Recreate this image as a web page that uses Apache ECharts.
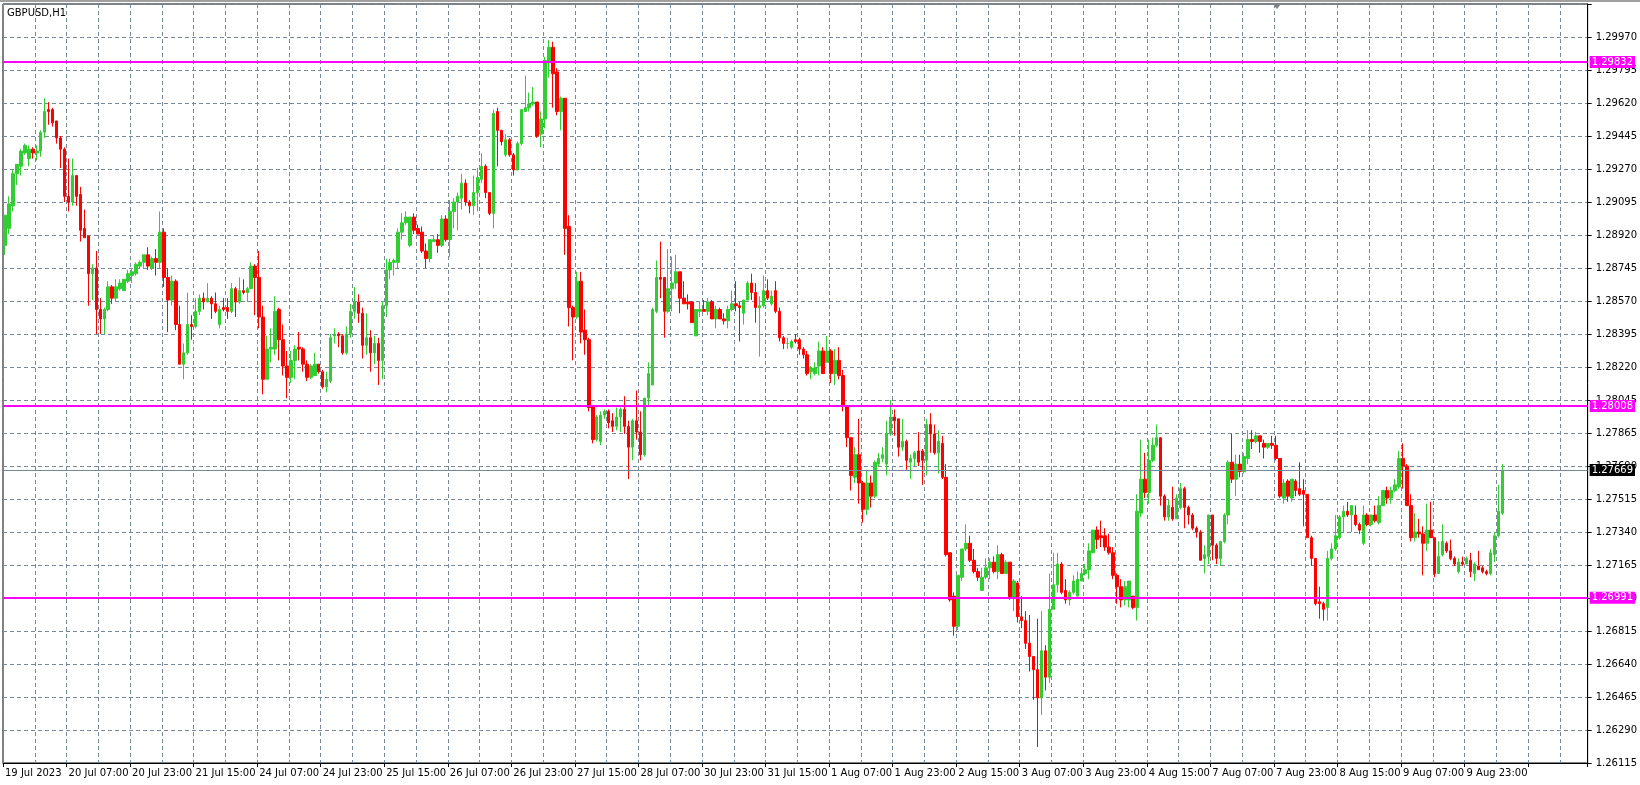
<!DOCTYPE html>
<html>
<head>
<meta charset="utf-8">
<script src="https://cdn.jsdelivr.net/npm/echarts@6/dist/echarts.min.js"></script>
<style>
  html, body { margin: 0; padding: 0; background: #fff; }
  #chart { width: 1640px; height: 785px; }
</style>
</head>
<body>
<div id="chart"></div>
<script>
const tickLabels = ['19 Jul 2023', '20 Jul 07:00', '20 Jul 23:00', '21 Jul 15:00', '24 Jul 07:00', '24 Jul 23:00',
  '25 Jul 15:00', '26 Jul 07:00', '26 Jul 23:00', '27 Jul 15:00', '28 Jul 07:00', '30 Jul 23:00', '31 Jul 15:00',
  '1 Aug 07:00', '1 Aug 23:00', '2 Aug 15:00', '3 Aug 07:00', '3 Aug 23:00', '4 Aug 15:00', '7 Aug 07:00',
  '7 Aug 23:00', '8 Aug 15:00', '9 Aug 07:00', '9 Aug 23:00'];
const priceLabels = ['1.26115', '1.26290', '1.26465', '1.26640', '1.26815', '1.26990', '1.27165', '1.27340',
  '1.27515', '1.27690', '1.27865', '1.28045', '1.28220', '1.28395', '1.28570', '1.28745', '1.28920', '1.29095',
  '1.29270', '1.29445', '1.29620', '1.29795', '1.29970'];
const barsPerLabel = 16;
const totalSlots = 399;

const opens = [
  1.2886,1.2895,1.2907,1.2924,1.2928,1.2935,1.2932,1.2937,1.2935,1.2936,
  1.2946,1.2958,1.2958,1.2952,1.2943,1.2937,1.2912,1.2909,1.2923,1.2913,
  1.2895,1.2891,1.2871,1.2874,1.2852,1.2847,1.2852,1.2864,1.2858,1.2863,
  1.2862,1.2867,1.2870,1.2871,1.2875,1.2877,1.2881,1.2874,1.2879,1.2877,
  1.2893,1.2869,1.2857,1.2867,1.2844,1.2823,1.2829,1.2844,1.2843,1.2851,
  1.2858,1.2856,1.2858,1.2855,1.2844,1.2853,1.2853,1.2851,1.2863,1.2856,
  1.2862,1.2861,1.2863,1.2875,
  1.2869,1.2848,1.2815,1.2831,1.2831,1.2852,1.2836,1.2822,1.2816,1.2825,
  1.2832,1.2831,1.2823,1.2816,1.2817,1.2823,1.2819,1.2811,1.2814,1.2838,
  1.2839,1.2838,1.2829,1.2839,1.2851,1.2856,1.2850,1.2833,1.2837,1.2829,
  1.2834,1.2825,1.2854,1.2873,1.2877,1.2877,1.2893,1.2898,1.2886,1.2901,
  1.2895,1.2893,1.2883,1.2879,1.2888,1.2889,1.2886,1.2900,1.2889,1.2904,
  1.2909,1.2911,1.2919,1.2909,1.2907,1.2914,1.2921,1.2928,1.2914,1.2903,
  1.2957,1.2947,1.2934,1.2942,1.2934,1.2926,1.2940,1.2957,1.2959,1.2961,
  1.2962,1.2945,1.2953,1.2983,1.2991,1.2978,1.2957,1.2964,
  1.2896,1.2853,1.2848,1.2867,1.2841,1.2836,1.2801,1.2783,1.2782,1.2796,
  1.2798,1.2793,1.2790,1.2795,1.2799,1.2790,1.2779,1.2793,1.2787,1.2775,
  1.2805,1.2812,1.2851,1.2869,1.2869,1.2851,1.2863,1.2866,1.2872,1.2858,
  1.2856,1.2856,1.2838,1.2851,1.2852,1.2851,1.2856,1.2847,1.2852,1.2847,
  1.2846,1.2852,1.2855,1.2854,1.2850,1.2857,1.2866,1.2861,1.2853,1.2854,
  1.2862,1.2855,1.2862,1.2851,1.2837,1.2834,1.2832,1.2836,1.2836,1.2831,
  1.2828,1.2819,1.2818,1.2822,1.2830,1.2824,1.2830,1.2818,1.2825,1.2817,1.2801,1.2784,
  1.2763,1.2775,1.2760,1.2746,1.2760,1.2753,1.2770,1.2773,1.2770,1.2786,
  1.2795,1.2794,1.2779,1.2782,1.2771,1.2773,1.2777,1.2777,1.2772,1.2791,
  1.2786,1.2776,1.2781,1.2763,1.2723,1.2700,1.2684,1.2710,1.2725,1.2728,
  1.2719,1.2713,1.2703,1.2710,1.2715,1.2718,1.2713,1.2722,1.2712,1.2718,
  1.2699,1.2707,1.2689,1.2687,1.2675,1.2668,1.2661,1.2646,1.2671,1.2657,
  1.2693,1.2706,1.2717,1.2703,1.2698,1.2702,1.2700,1.2708,1.2712,1.2714,
  1.2723,1.2735,1.2732,1.2732,
  1.2726,1.2723,1.2711,1.2705,1.2698,1.2698,1.2700,1.2694,1.2744,1.2762,
  1.2755,1.2772,1.2780,1.2784,1.2753,1.2742,1.2747,1.2741,1.2747,1.2757,
  1.2747,1.2743,1.2736,1.2734,1.2720,1.2721,1.2743,1.2727,1.2720,1.2729,
  1.2743,1.2771,1.2762,1.2770,1.2766,1.2773,1.2783,1.2782,1.2785,1.2781,
  1.2779,1.2781,1.2780,1.2773,1.2752,1.2761,1.2752,1.2761,1.2757,1.2756,
  1.2754,1.2731,1.2720,1.2697,1.2696,1.2694,1.2720,1.2725,1.2731,1.2742,
  1.2745,1.2743,1.2743,1.2738,1.2728,1.2743,1.2738,1.2743,1.2739,1.2748,
  1.2756,1.2752,1.2756,1.2758,1.2773,1.2769,1.2748,1.2731,1.2734,1.2733,
  1.2728,1.2735,1.2731,1.2712,1.2722,1.2728,1.2724,1.2720,1.2713,1.2718,
  1.2717,1.2719,1.2712,1.2716,1.2715,1.2713,1.2712,1.2722,1.2732,1.2744
];
const closes = [
  1.2902,1.2908,1.2924,1.2929,1.2936,1.2939,1.2937,1.2935,1.2936,1.2946,
  1.2957,1.2957,1.2951,1.2943,1.2937,1.2912,1.2909,1.2923,1.2912,1.2894,
  1.2890,1.2871,1.2874,1.2852,1.2847,1.2852,1.2864,1.2858,1.2864,1.2866,
  1.2868,1.2871,1.2872,1.2876,1.2877,1.2881,1.2875,1.2879,1.2877,1.2893,
  1.2869,1.2857,1.2867,1.2844,1.2823,1.2829,1.2844,1.2843,1.2851,1.2858,
  1.2856,1.2858,1.2855,1.2851,1.2852,1.2852,1.2851,1.2863,1.2856,1.2862,
  1.2861,1.2863,1.2875,1.2869,
  1.2848,1.2815,1.2831,1.2832,1.2851,1.2836,1.2822,1.2816,1.2825,1.2831,
  1.2831,1.2823,1.2816,1.2822,1.2823,1.2819,1.2811,1.2815,1.2837,1.2839,
  1.2838,1.2829,1.2839,1.2851,1.2856,1.2850,1.2833,1.2837,1.2829,1.2834,
  1.2825,1.2854,1.2873,1.2877,1.2878,1.2893,1.2898,1.2901,1.2901,1.2894,
  1.2892,1.2883,1.2879,1.2889,1.2889,1.2886,1.2900,1.2889,1.2904,1.2909,
  1.2912,1.2919,1.2909,1.2907,1.2914,1.2922,1.2928,1.2914,1.2903,1.2956,
  1.2947,1.2941,1.2942,1.2934,1.2926,1.2940,1.2958,1.2959,1.2961,1.2962,
  1.2944,1.2953,1.2984,1.2991,1.2977,1.2957,1.2964,1.2895,
  1.2853,1.2848,1.2867,1.2840,1.2836,1.2800,1.2783,1.2795,1.2796,1.2798,
  1.2792,1.2790,1.2795,1.2799,1.2790,1.2779,1.2793,1.2787,1.2775,1.2805,
  1.2818,1.2852,1.2869,1.2868,1.2851,1.2863,1.2866,1.2872,1.2858,1.2855,
  1.2855,1.2845,1.2852,1.2852,1.2851,1.2856,1.2847,1.2852,1.2847,1.2846,
  1.2852,1.2855,1.2854,1.2853,1.2857,1.2866,1.2861,1.2853,1.2854,1.2862,
  1.2858,1.2859,1.2851,1.2837,1.2834,1.2834,1.2835,1.2835,1.2831,1.2828,
  1.2818,1.2821,1.2821,1.2830,1.2818,1.2830,1.2818,1.2825,1.2817,1.2801,1.2784,1.2764,
  1.2775,1.2760,1.2746,1.2760,1.2753,1.2771,1.2773,1.2775,1.2786,1.2795,
  1.2793,1.2779,1.2782,1.2772,1.2773,1.2776,1.2771,1.2772,1.2791,1.2786,
  1.2776,1.2782,1.2763,1.2722,1.2698,1.2684,1.2711,1.2725,1.2728,1.2719,
  1.2713,1.2710,1.2710,1.2715,1.2718,1.2713,1.2722,1.2712,1.2718,1.2699,
  1.2708,1.2689,1.2687,1.2675,1.2668,1.2661,1.2646,1.2671,1.2657,1.2693,
  1.2706,1.2717,1.2702,1.2698,1.2702,1.2708,1.2709,1.2712,1.2714,1.2724,
  1.2735,1.2730,1.2731,1.2726,
  1.2723,1.2711,1.2705,1.2698,1.2705,1.2708,1.2694,1.2745,1.2762,1.2755,
  1.2772,1.2780,1.2784,1.2753,1.2742,1.2748,1.2741,1.2752,1.2757,1.2747,
  1.2743,1.2736,1.2734,1.2719,1.2722,1.2743,1.2727,1.2720,1.2729,1.2743,
  1.2771,1.2762,1.2770,1.2766,1.2774,1.2783,1.2782,1.2785,1.2782,1.2779,
  1.2781,1.2780,1.2773,1.2753,1.2760,1.2753,1.2762,1.2756,1.2754,1.2754,
  1.2731,1.2720,1.2696,1.2696,1.2693,1.2720,1.2725,1.2732,1.2742,1.2745,
  1.2743,1.2748,1.2738,1.2735,1.2743,1.2738,1.2743,1.2740,1.2748,1.2756,
  1.2752,1.2756,1.2759,1.2773,1.2769,1.2748,1.2731,1.2734,1.2733,1.2728,
  1.2735,1.2731,1.2712,1.2721,1.2729,1.2724,1.2720,1.2717,1.2718,1.2717,
  1.2720,1.2713,1.2717,1.2714,1.2713,1.2712,1.2723,1.2732,1.2745,1.27669
];
const lows = [
  1.2881,1.2892,1.2904,1.2918,1.2923,1.2934,1.2928,1.2932,1.2931,1.2933,
  1.2943,1.2950,1.2949,1.2940,1.2927,1.2909,1.2904,1.2907,1.2907,1.2888,
  1.2890,1.2854,1.2857,1.2839,1.2839,1.2839,1.2851,1.2855,1.2856,1.2862,
  1.2862,1.2866,1.2866,1.2870,1.2874,1.2874,1.2873,1.2873,1.2870,1.2874,
  1.2864,1.2840,1.2854,1.2841,1.2823,1.2815,1.2828,1.2836,1.2842,1.2849,
  1.2852,1.2856,1.2847,1.2850,1.2842,1.2851,1.2847,1.2850,1.2848,1.2855,
  1.2860,1.2856,1.2863,1.2849,
  1.2842,1.2807,1.2815,1.2824,1.2828,1.2825,1.2817,1.2805,1.2813,1.2815,
  1.2825,1.2819,1.2814,1.2815,1.2817,1.2818,1.2810,1.2808,1.2813,1.2834,
  1.2832,1.2828,1.2828,1.2837,1.2847,1.2845,1.2826,1.2828,1.2819,1.2823,
  1.2812,1.2815,1.2848,1.2868,1.2870,1.2874,1.2889,1.2897,1.2885,1.2892,
  1.2892,1.2882,1.2874,1.2877,1.2888,1.2882,1.2885,1.2888,1.2880,1.2895,
  1.2894,1.2905,1.2907,1.2903,1.2902,1.2904,1.2919,1.2911,1.2902,1.2895,
  1.2928,1.2939,1.2933,1.2933,1.2923,1.2926,1.2939,1.2957,1.2957,1.2960,
  1.2943,1.2938,1.2948,1.2975,1.2959,1.2955,1.2947,1.2881,
  1.2843,1.2825,1.2847,1.2834,1.2828,1.2798,1.2781,1.2782,1.2780,1.2794,
  1.2789,1.2787,1.2788,1.2787,1.2786,1.2762,1.2772,1.2783,1.2772,1.2774,
  1.2801,1.2812,1.2850,1.2858,1.2837,1.2850,1.2851,1.2863,1.2850,1.2855,
  1.2852,1.2845,1.2838,1.2848,1.2851,1.2849,1.2847,1.2842,1.2847,1.2844,
  1.2842,1.2851,1.2851,1.2835,1.2844,1.2857,1.2857,1.2845,1.2827,1.2853,
  1.2857,1.2854,1.2850,1.2835,1.2831,1.2831,1.2831,1.2834,1.2828,1.2826,
  1.2817,1.2815,1.2817,1.2817,1.2818,1.2824,1.2813,1.2812,1.2815,1.2798,1.2779,1.2756,
  1.2760,1.2749,1.2739,1.2743,1.2747,1.2752,1.2769,1.2771,1.2764,1.2785,
  1.2785,1.2774,1.2777,1.2767,1.2762,1.2769,1.2769,1.2759,1.2764,1.2776,
  1.2775,1.2765,1.2762,1.2721,1.2697,1.2679,1.2682,1.2708,1.2724,1.2718,
  1.2712,1.2708,1.2703,1.2709,1.2709,1.2712,1.2709,1.2712,1.2712,1.2698,
  1.2692,1.2686,1.2683,1.2672,1.2660,1.2645,1.2620,1.2637,1.2650,1.2654,
  1.2693,1.2702,1.2701,1.2696,1.2695,1.2701,1.2700,1.2708,1.2711,1.2709,
  1.2723,1.2725,1.2726,1.2724,
  1.2722,1.2709,1.2696,1.2694,1.2695,1.2694,1.2693,1.2687,1.2742,1.2752,
  1.2749,1.2771,1.2779,1.2748,1.2740,1.2740,1.2740,1.2741,1.2746,1.2736,
  1.2738,1.2735,1.2731,1.2719,1.2712,1.2717,1.2719,1.2717,1.2716,1.2728,
  1.2738,1.2760,1.2753,1.2763,1.2765,1.2770,1.2778,1.2781,1.2776,1.2773,
  1.2778,1.2778,1.2772,1.2752,1.2749,1.2750,1.2750,1.2753,1.2753,1.2737,
  1.2731,1.2716,1.2695,1.2688,1.2687,1.2687,1.2719,1.2724,1.2730,1.2734,
  1.2742,1.2734,1.2737,1.2733,1.2727,1.2737,1.2737,1.2739,1.2738,1.2748,
  1.2749,1.2749,1.2755,1.2757,1.2757,1.2748,1.2729,1.2729,1.2731,1.2711,
  1.2724,1.2731,1.2710,1.2712,1.2721,1.2723,1.2719,1.2716,1.2712,1.2716,
  1.2717,1.2710,1.2708,1.2714,1.2712,1.2711,1.2711,1.2718,1.2731,1.2743
];
const highs = [
  1.2902,1.2912,1.2926,1.2929,1.2937,1.2940,1.2939,1.2938,1.2939,1.2947,
  1.2964,1.2962,1.2959,1.2952,1.2944,1.2938,1.2932,1.2932,1.2923,1.2917,
  1.2905,1.2891,1.2876,1.2883,1.2858,1.2853,1.2867,1.2865,1.2868,1.2868,
  1.2868,1.2873,1.2874,1.2877,1.2878,1.2881,1.2885,1.2880,1.2884,1.2904,
  1.2895,1.2874,1.2870,1.2868,1.2854,1.2834,1.2861,1.2849,1.2858,1.2860,
  1.2861,1.2866,1.2859,1.2861,1.2854,1.2858,1.2858,1.2866,1.2864,1.2869,
  1.2868,1.2864,1.2877,1.2876,
  1.2883,1.2854,1.2838,1.2842,1.2859,1.2853,1.2844,1.2830,1.2830,1.2833,
  1.2840,1.2832,1.2825,1.2823,1.2829,1.2823,1.2820,1.2819,1.2839,1.2842,
  1.2840,1.2839,1.2843,1.2855,1.2864,1.2860,1.2853,1.2850,1.2841,1.2838,
  1.2837,1.2856,1.2879,1.2879,1.2879,1.2895,1.2903,1.2904,1.2901,1.2903,
  1.2897,1.2896,1.2887,1.2889,1.2891,1.2892,1.2902,1.2902,1.2910,1.2911,
  1.2914,1.2924,1.2921,1.2910,1.2923,1.2927,1.2935,1.2929,1.2914,1.2958,
  1.2959,1.2947,1.2945,1.2943,1.2935,1.2941,1.2958,1.2976,1.2967,1.2970,
  1.2962,1.2957,1.2986,1.2995,1.2994,1.2980,1.2965,1.2964,
  1.2902,1.2854,1.2872,1.2872,1.2852,1.2837,1.2801,1.2796,1.2798,1.2799,
  1.2799,1.2797,1.2800,1.2800,1.2806,1.2793,1.2794,1.2809,1.2798,1.2805,
  1.2824,1.2853,1.2878,1.2888,1.2869,1.2884,1.2880,1.2881,1.2872,1.2867,
  1.2860,1.2856,1.2852,1.2856,1.2857,1.2858,1.2857,1.2854,1.2853,1.2850,
  1.2854,1.2862,1.2867,1.2856,1.2857,1.2867,1.2871,1.2866,1.2859,1.2870,
  1.2868,1.2862,1.2867,1.2853,1.2838,1.2837,1.2836,1.2839,1.2837,1.2832,
  1.2830,1.2822,1.2824,1.2835,1.2832,1.2838,1.2831,1.2831,1.2832,1.2820,1.2801,1.2784,
  1.2779,1.2794,1.2761,1.2767,1.2764,1.2772,1.2776,1.2779,1.2793,1.2804,
  1.2799,1.2794,1.2794,1.2783,1.2775,1.2777,1.2787,1.2778,1.2794,1.2797,
  1.2791,1.2788,1.2785,1.2770,1.2723,1.2702,1.2711,1.2725,1.2738,1.2732,
  1.2725,1.2715,1.2715,1.2720,1.2720,1.2721,1.2727,1.2723,1.2719,1.2718,
  1.2709,1.2708,1.2700,1.2692,1.2690,1.2668,1.2688,1.2692,1.2674,1.2712,
  1.2723,1.2723,1.2718,1.2709,1.2703,1.2711,1.2713,1.2715,1.2717,1.2728,
  1.2735,1.2737,1.2740,1.2736,
  1.2733,1.2726,1.2712,1.2709,1.2708,1.2708,1.2700,1.2754,1.2783,1.2776,
  1.2783,1.2784,1.2791,1.2784,1.2754,1.2751,1.2758,1.2754,1.2760,1.2758,
  1.2748,1.2744,1.2737,1.2735,1.2727,1.2743,1.2743,1.2728,1.2729,1.2744,
  1.2772,1.2786,1.2775,1.2775,1.2776,1.2788,1.2788,1.2787,1.2785,1.2783,
  1.2781,1.2785,1.2785,1.2773,1.2762,1.2762,1.2762,1.2762,1.2771,1.2762,
  1.2754,1.2732,1.2720,1.2705,1.2697,1.2724,1.2728,1.2743,1.2743,1.2748,
  1.2750,1.2748,1.2748,1.2739,1.2748,1.2744,1.2743,1.2748,1.2753,1.2756,
  1.2758,1.2758,1.2762,1.2777,1.2781,1.2770,1.2754,1.2744,1.2741,1.2737,
  1.2749,1.2750,1.2731,1.2729,1.2738,1.2729,1.2730,1.2721,1.2720,1.2721,
  1.2721,1.2723,1.2718,1.2724,1.2716,1.2714,1.2725,1.2734,1.2759,1.2770
];

const levels = [1.29832, 1.28008, 1.26991];
const bidPrice = 1.27669;
const axisMin = 1.26115;
const axisStep = 0.00175;

let categories = [];
for (let i = 0; i < totalSlots; i++) categories.push(String(i));

let candles = opens.map((o, i) => [o, closes[i], lows[i], highs[i]]);

let levelLines = levels.map(v => ({
  yAxis: v,
  name: v.toFixed(5),
  lineStyle: { color: '#FF00FF', width: 2, type: 'solid' },
  label: { backgroundColor: '#FF00FF', color: '#fff' }
}));
levelLines.push({
  yAxis: bidPrice,
  name: bidPrice.toFixed(5),
  lineStyle: { color: '#778899', width: 1, type: 'solid' },
  label: { backgroundColor: '#000', color: '#fff' }
});

let chart = echarts.init(document.getElementById('chart'));
chart.setOption({
  animation: false,
  backgroundColor: '#fff',
  textStyle: { fontFamily: 'DejaVu Sans' },
  graphic: [
    { type: 'rect', left: 0, top: 0, shape: { width: 1640, height: 2 }, style: { fill: '#a0a0a0' } },
    { type: 'text', left: 7, top: 8, style: { text: 'GBPUSD,H1', fill: '#000', font: '10px DejaVu Sans' } },
    { type: 'polygon', shape: { points: [[1273, 4], [1281, 4], [1277, 9]] }, style: { fill: '#808080' } }
  ],
  grid: { left: 3, right: 41, top: 4, bottom: 22, show: true, borderColor: '#000', borderWidth: 1 },
  xAxis: {
    type: 'category',
    data: categories,
    boundaryGap: true,
    axisLine: { lineStyle: { color: '#000' } },
    axisTick: { show: true, interval: (i) => i % barsPerLabel === 0, length: 4, lineStyle: { color: '#000' } },
    axisLabel: {
      interval: (i) => i % barsPerLabel === 0,
      formatter: (v, i) => tickLabels[i / barsPerLabel] || '',
      align: 'left', color: '#000', fontSize: 10, margin: 5
    },
    splitLine: {
      show: true, interval: (i) => i % 8 === 0,
      lineStyle: { color: '#778899', type: [4, 3], width: 1 }
    }
  },
  yAxis: {
    type: 'value',
    position: 'right',
    min: axisMin,
    max: axisMin + 23 * axisStep,
    interval: axisStep,
    axisLine: { show: true, lineStyle: { color: '#000' } },
    axisTick: { show: true, length: 4, lineStyle: { color: '#000' } },
    axisLabel: {
      formatter: (v) => priceLabels[Math.round((v - axisMin) / axisStep)] || '',
      color: '#000', fontSize: 10, margin: 8
    },
    splitLine: { show: true, lineStyle: { color: '#778899', type: [4, 3], width: 1 } }
  },
  series: [{
    type: 'candlestick',
    data: candles,
    barWidth: 3,
    itemStyle: {
      color: '#32CD32', color0: '#FF0000',
      borderColor: '#32CD32', borderColor0: '#FF0000', borderWidth: 1
    },
    markLine: {
      silent: true,
      symbol: 'none',
      precision: 5,
      animation: false,
      label: {
        position: 'end', distance: 2, fontSize: 10, padding: [1, 2],
        formatter: (p) => p.name
      },
      data: levelLines
    }
  }]
});
</script>
</body>
</html>
